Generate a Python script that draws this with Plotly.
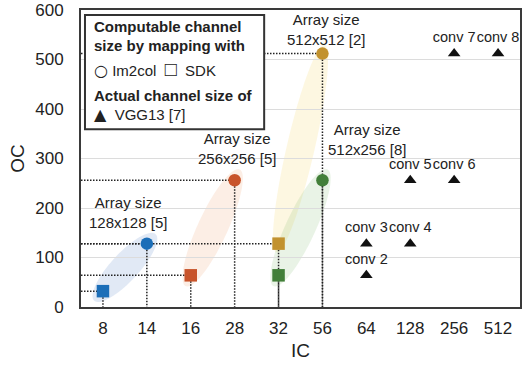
import numpy as np
import plotly.graph_objects as go

# ---------------- data ----------------
categories = ["8", "14", "16", "28", "32", "56", "64", "128", "256", "512"]

array_names = ["128x128 [5]", "256x256 [5]", "512x512 [2]", "512x256 [8]"]
sdk_ic = ["8", "16", "32", "32"]
sdk_oc = [32, 64, 128, 64]
im2col_ic = ["14", "28", "56", "56"]
im2col_oc = [128, 256, 512, 256]
guide_horizontal = [True, True, True, False]

vgg_ic = ["64", "64", "128", "128", "256", "256", "512"]
vgg_oc = [64, 128, 128, 256, 256, 512, 512]
vgg_labels = ["conv 2", "conv 3", "conv 4", "conv 5", "conv 6", "conv 7", "conv 8"]

y_ticks = [0, 100, 200, 300, 400, 500, 600]

# ---------------- style ----------------
marker_colors = ["#1b6eb8", "#c8532a", "#c2922f", "#427f39"]
ellipse_fills = ["rgba(70,120,190,0.16)", "rgba(235,140,80,0.15)",
                 "rgba(245,210,90,0.18)", "rgba(120,180,100,0.16)"]
ellipse_pad = [13, 12, 9, 12]
ellipse_half = [14, 15, 14, 15]
label_pos = [(0.57, 191), (3.06, 320), (5.08, 561), (6.01, 338)]

FONT = "Arial, Liberation Sans, sans-serif"
TXT = "#222222"

W, H = 523, 367
ML, MR, MT, MB = 81, 1, 8, 60
PW, PH = W - ML - MR, H - MT - MB
X0, X1 = -0.5, len(categories) - 0.5
Y0, Y1 = 0, 600
sx = PW / (X1 - X0)
sy = PH / (Y1 - Y0)

idx = {c: i for i, c in enumerate(categories)}


def ellipse_path(xa, ya, xb, yb, pad, half):
    pa = np.array([xa * sx, ya * sy])
    pb = np.array([xb * sx, yb * sy])
    c = (pa + pb) / 2
    d = pb - pa
    L = np.hypot(*d)
    u = d / L
    v = np.array([-u[1], u[0]])
    a = L / 2 + pad
    t = np.linspace(0, 2 * np.pi, 90)
    pts = c[None, :] + (a * np.cos(t))[:, None] * u[None, :] + (half * np.sin(t))[:, None] * v[None, :]
    xs = pts[:, 0] / sx
    ys = pts[:, 1] / sy
    s = "M %.4f,%.4f " % (xs[0], ys[0])
    s += " ".join("L %.4f,%.4f" % (x, y) for x, y in zip(xs[1:], ys[1:]))
    return s + " Z"


fig = go.Figure()
shapes = []

# ellipses
for i in range(len(array_names)):
    xa, ya = idx[sdk_ic[i]], sdk_oc[i]
    xb, yb = idx[im2col_ic[i]], im2col_oc[i]
    shapes.append(dict(type="path", xref="x", yref="y",
                       path=ellipse_path(xa, ya, xb, yb, ellipse_pad[i], ellipse_half[i]),
                       fillcolor=ellipse_fills[i], line=dict(width=0), layer="below"))

# dotted guide lines
gx, gy = [], []
for i in range(len(array_names)):
    for ic, oc in ((sdk_ic[i], sdk_oc[i]), (im2col_ic[i], im2col_oc[i])):
        xi = idx[ic]
        gx += [xi, xi, None]
        gy += [oc, 0, None]
        if guide_horizontal[i]:
            gx += [X0, xi, None]
            gy += [oc, oc, None]
fig.add_trace(go.Scatter(x=gx, y=gy, mode="lines", hoverinfo="skip",
                         line=dict(color="#222222", width=1.5, dash="1.5px,1.5px"),
                         showlegend=False))

# markers
for i in range(len(array_names)):
    fig.add_trace(go.Scatter(x=[idx[sdk_ic[i]]], y=[sdk_oc[i]], mode="markers",
                             marker=dict(symbol="square", size=12.5, color=marker_colors[i]),
                             showlegend=False))
    fig.add_trace(go.Scatter(x=[idx[im2col_ic[i]]], y=[im2col_oc[i]], mode="markers",
                             marker=dict(symbol="circle", size=12.5, color=marker_colors[i]),
                             showlegend=False))

fig.add_trace(go.Scatter(x=[idx[c] for c in vgg_ic], y=vgg_oc, mode="markers+text",
                         text=vgg_labels, textposition="top center",
                         textfont=dict(family=FONT, size=14.5, color=TXT),
                         marker=dict(symbol="triangle-up", size=11, color="#111111"),
                         showlegend=False))

annotations = []
for i, name in enumerate(array_names):
    annotations.append(dict(x=label_pos[i][0], y=label_pos[i][1], xref="x", yref="y",
                            text="Array size<br>" + name, showarrow=False,
                            font=dict(family=FONT, size=15, color=TXT),
                            xanchor="center", yanchor="middle", align="center"))

# legend box
def px2paper(px, py):
    return (px - ML) / PW, (H - MB - py) / PH

bx0, by0 = px2paper(85, 128)
bx1, by1 = px2paper(265, 13)
shapes.append(dict(type="rect", xref="paper", yref="paper", x0=bx0, y0=by0, x1=bx1, y1=by1,
                   fillcolor="white", line=dict(color="#333333", width=2), layer="above"))

SYM_D = "<span style='font-family:DejaVu Sans;font-size:16px'>%s</span>"
SYM_L = "<span style='font-size:20px'>%s</span>"
legend_lines = [
    ("<b>Computable channel</b>", 25),
    ("<b>size by mapping with</b>", 44),
    (SYM_D % "○" + " Im2col  " + SYM_L % "□" + "  SDK", 67),
    ("<b>Actual channel size of</b>", 94),
    (SYM_D % "▲" + "  VGG13 [7]", 113),
]
for txt, py in legend_lines:
    ax, ay = px2paper(92, py)
    annotations.append(dict(x=ax, y=ay, xref="paper", yref="paper", text=txt,
                            showarrow=False, xanchor="left", yanchor="middle",
                            font=dict(family=FONT, size=15, color=TXT)))

fig.update_layout(
    width=W, height=H,
    margin=dict(l=ML, r=MR, t=MT, b=MB, pad=0),
    paper_bgcolor="white", plot_bgcolor="white",
    shapes=shapes, annotations=annotations,
    font=dict(family=FONT, color=TXT),
    xaxis=dict(range=[X0, X1], tickmode="array", tickvals=list(range(len(categories))),
               ticktext=categories, showgrid=False, zeroline=False,
               showline=True, mirror=True, linecolor="#3a3a3a", linewidth=2,
               ticks="", ticklabelstandoff=5, ticklabeloverflow="allow",
               tickfont=dict(family=FONT, size=17, color=TXT),
               title=dict(text="IC", font=dict(family=FONT, size=19, color=TXT), standoff=6)),
    yaxis=dict(range=[Y0, Y1], tickmode="array", tickvals=y_ticks,
               showgrid=True, gridcolor="#dcdcdc", gridwidth=1, zeroline=False,
               showline=True, mirror=True, linecolor="#3a3a3a", linewidth=2,
               ticks="", ticklabelstandoff=12, ticklabeloverflow="allow",
               tickfont=dict(family=FONT, size=17, color=TXT),
               title=dict(text="OC", font=dict(family=FONT, size=19, color=TXT), standoff=6)),
)

fig.write_html("out.html")
